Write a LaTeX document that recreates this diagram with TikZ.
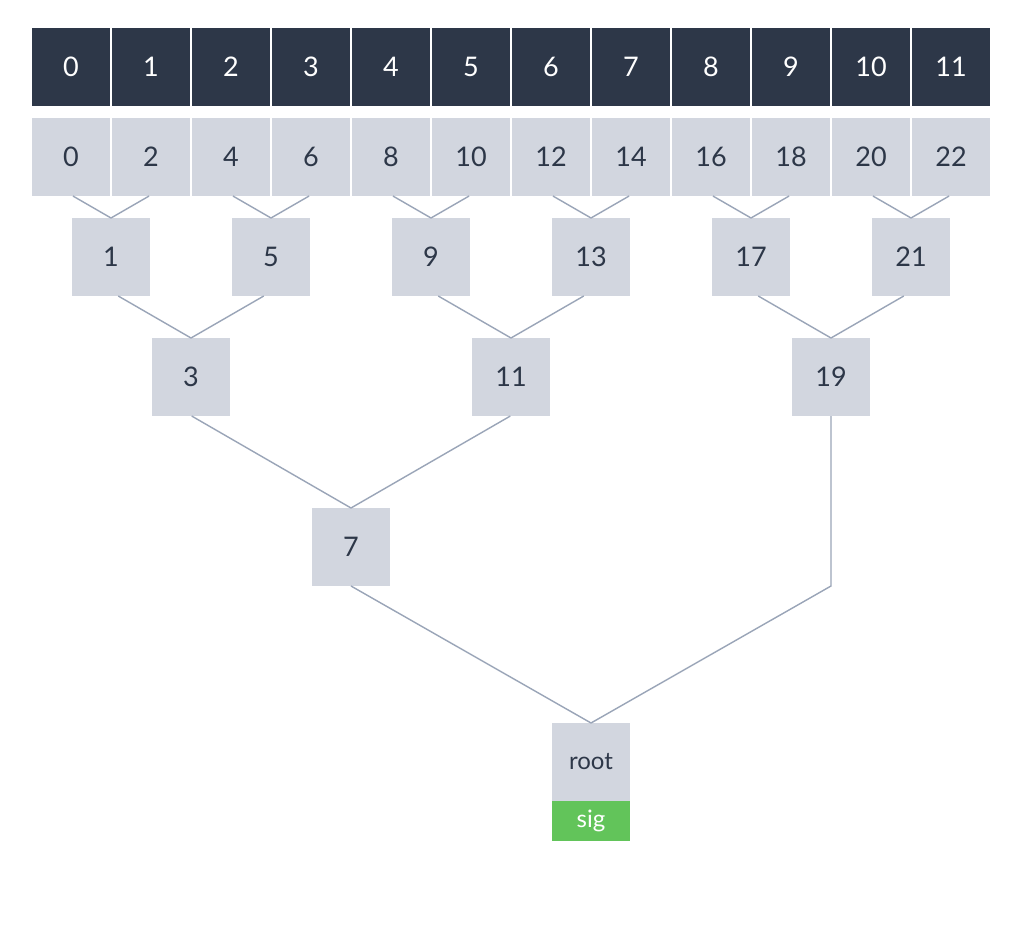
\documentclass[tikz,border=0pt]{standalone}
\usepackage{fontspec}
\setmainfont{Lato}
\usetikzlibrary{calc}
\definecolor{darkbox}{HTML}{2D3748}
\definecolor{lightbox}{HTML}{D2D6DF}
\definecolor{txt}{HTML}{2D3748}
\definecolor{edge}{HTML}{9AA5B8}
\definecolor{sigg}{HTML}{62C45A}
\tikzset{
  cell/.style={minimum width=78pt,minimum height=78pt,inner sep=0pt,outer sep=0pt,font=\fontsize{27}{31}\selectfont},
  darkcell/.style={cell,fill=darkbox,text=white},
  lightcell/.style={cell,fill=lightbox,text=txt},
  rootcell/.style={lightcell,font=\fontsize{24}{28}\selectfont},
  sigcell/.style={minimum width=78pt,minimum height=40pt,inner sep=0pt,outer sep=0pt,fill=sigg,text=white,font=\fontsize{24}{28}\selectfont},
  link/.style={draw=edge,line width=1.4pt}
}
\newcommand{\leftlink}[2]{\draw[link] let \p1=(#1.north), \p2=(#2.south) in (\p1) -- ({\x1-(\y2-\y1)*1.7320508},\y2);}
\newcommand{\rightlink}[2]{\draw[link] let \p1=(#1.north), \p2=(#2.south) in (\p1) -- ({\x1+(\y2-\y1)*1.7320508},\y2);}
\begin{document}
\begin{tikzpicture}[x=1pt,y=-1pt]
\useasboundingbox[fill=white] (0,0) rectangle (1020,924);
% top row
\foreach \i in {0,...,11}{
  \node[darkcell] (t\i) at ({71+80*\i},67) {\raisebox{-1pt}{\i}};
}
% second row
\foreach \i [evaluate=\i as \v using int(2*\i)] in {0,...,11}{
  \node[lightcell] (n\v) at ({71+80*\i},157) {\raisebox{-1pt}{\v}};
}
% level 1
\foreach \j [evaluate=\j as \v using int(4*\j+1)] in {0,...,5}{
  \node[lightcell] (n\v) at ({111+160*\j},257) {\raisebox{-1pt}{\v}};
}
% level 2
\node[lightcell] (n3) at (191,377) {\raisebox{-1pt}{3}};
\node[lightcell] (n11) at (511,377) {\raisebox{-1pt}{11}};
\node[lightcell] (n19) at (831,377) {\raisebox{-1pt}{19}};
% level 3
\node[lightcell] (n7) at (351,547) {\raisebox{-1pt}{7}};
% root
\node[rootcell] (root) at (591,762) {\raisebox{-1pt}{root}};
\node[sigcell,anchor=north] (sig) at (root.south) {sig};
% links level 1
\leftlink{n1}{n0}  \rightlink{n1}{n2}
\leftlink{n5}{n4}  \rightlink{n5}{n6}
\leftlink{n9}{n8}  \rightlink{n9}{n10}
\leftlink{n13}{n12} \rightlink{n13}{n14}
\leftlink{n17}{n16} \rightlink{n17}{n18}
\leftlink{n21}{n20} \rightlink{n21}{n22}
% level 2
\leftlink{n3}{n1}  \rightlink{n3}{n5}
\leftlink{n11}{n9}  \rightlink{n11}{n13}
\leftlink{n19}{n17}  \rightlink{n19}{n21}
% level 3
\leftlink{n7}{n3}  \rightlink{n7}{n11}
% root
\draw[link] (root.north) -- (n7.south);
\draw[link] (root.north) -- (n19.south |- n7.south) -- (n19.south);
\end{tikzpicture}
\end{document}
